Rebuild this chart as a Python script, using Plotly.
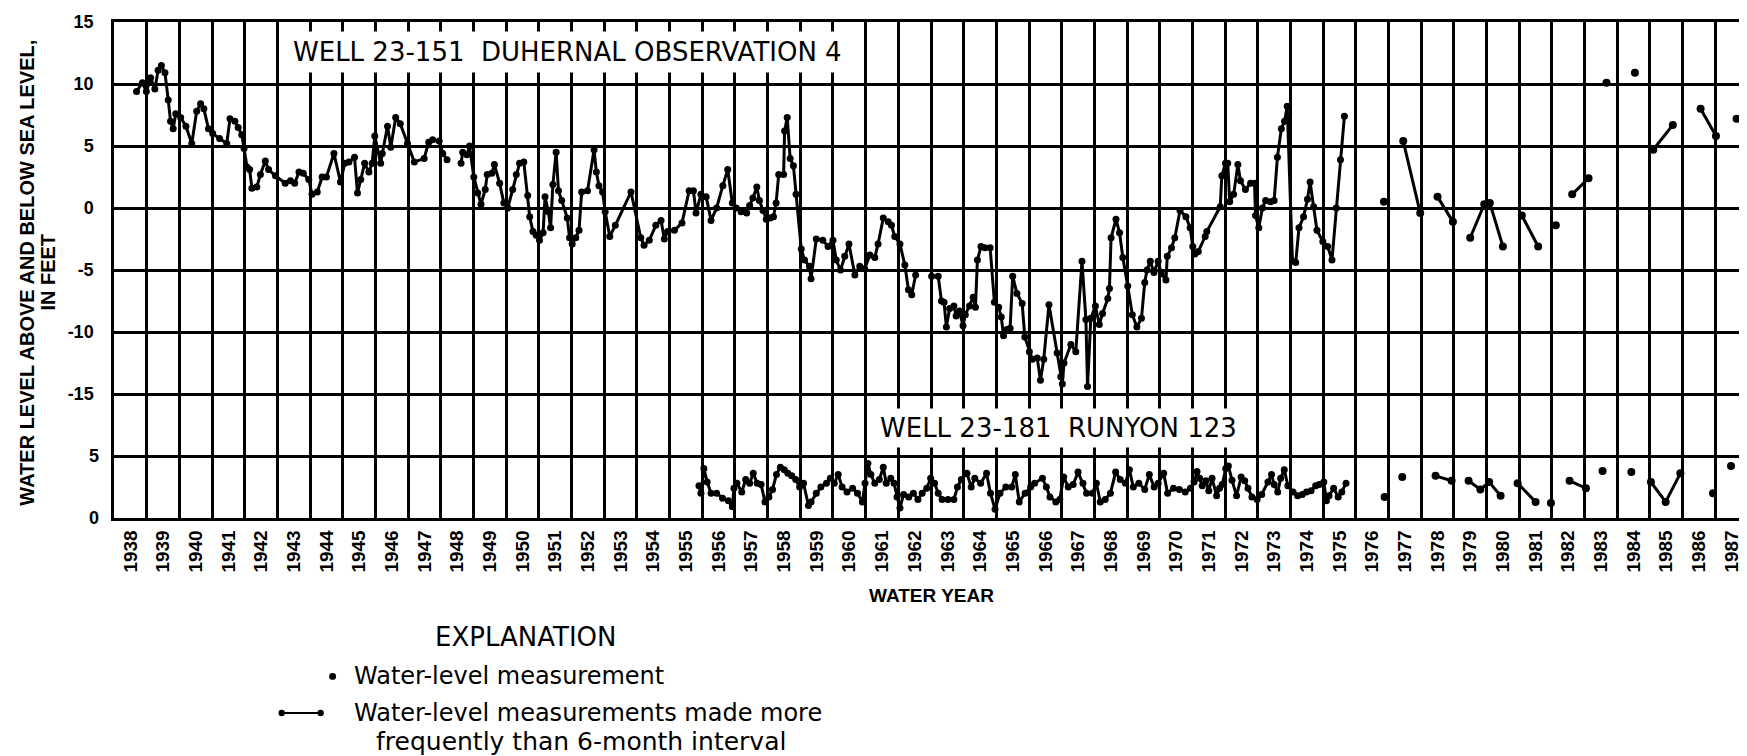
import plotly.graph_objects as go

# ---------------- data (water year, feet relative to sea level) ----------------
# Well 23-151 Duhernal Observation 4 : frequent measurements 1938-1975 (None = break in record)
upper_year = [
    1938.69, 1938.87, 1938.99, 1939.12, 1939.25, 1939.35, 1939.45, 1939.56, 1939.66, 1939.73,
    1939.81, 1939.89, 1940.04, 1940.20, 1940.38, 1940.53, 1940.65, 1940.75, 1940.89, 1941.02,
    1941.23, 1941.45, 1941.55, 1941.70, 1941.80, 1941.91, 1941.98, 1942.07, 1942.15, 1942.22,
    1942.37, 1942.48, 1942.63, 1942.73, 1942.94, 1943.24, 1943.40, 1943.53, 1943.66, 1943.79,
    1943.96, 1944.06, 1944.22, 1944.37, 1944.50, 1944.73, 1944.93, 1945.06, 1945.19, 1945.36,
    1945.45, 1945.55, 1945.67, 1945.80, 1945.90, 1945.98, 1946.16, 1946.21, 1946.37, 1946.47,
    1946.62, 1946.76, 1946.98, 1947.19, 1947.49, 1947.63, 1947.75, 1947.95, 1948.06, 1948.19,
    None,
    1948.62, 1948.67, 1948.80, 1948.88, 1949.01, 1949.13, 1949.23, 1949.36, 1949.42, 1949.56,
    1949.64, 1949.80, 1949.93, 1950.05, 1950.20, 1950.31, 1950.41, 1950.54, 1950.66, 1950.72,
    1950.82, 1950.92, 1951.02, 1951.13, 1951.19, 1951.29, 1951.36, 1951.43, 1951.53, 1951.60,
    1951.70, 1951.87, 1951.94, 1952.02, 1952.13, 1952.23, 1952.31, 1952.49, 1952.69, 1952.76,
    1952.84, 1952.95, 1953.03, 1953.17, 1953.34, 1953.82, 1954.12, 1954.22, 1954.38, 1954.58,
    1954.74, 1954.84, 1954.94, 1955.15, 1955.38, 1955.60, 1955.73, 1955.81, 1955.96, 1956.12,
    1956.27, 1956.44, 1956.63, 1956.78, 1956.92, 1957.04, 1957.19, 1957.36, 1957.45, 1957.55,
    1957.67, 1957.75, 1957.86, 1957.96, 1958.08, 1958.18, 1958.26, 1958.34, 1958.49, 1958.52,
    1958.60, 1958.69, 1958.79, 1958.87, 1959.03, 1959.13, 1959.28, 1959.33, 1959.49, 1959.69,
    1959.85, 1960.00, 1960.10, 1960.23, 1960.36, 1960.49, 1960.67, 1960.82, 1960.97, 1961.13,
    1961.28, 1961.38, 1961.54, 1961.69, 1961.79, 1961.89, 1962.05, 1962.20, 1962.31, 1962.41,
    1962.53,
    None,
    1963.02, 1963.22, 1963.32, 1963.40, 1963.47, 1963.57, 1963.70, 1963.77, 1963.87, 1963.98,
    1964.05, 1964.18, 1964.29, 1964.36, 1964.42, 1964.53, 1964.65, 1964.81, 1964.94, 1965.07,
    1965.15, 1965.22, 1965.32, 1965.42, 1965.50, 1965.63, 1965.79, 1965.87, 1966.01, 1966.10,
    1966.25, 1966.35, 1966.45, 1966.61, 1966.86, 1966.97, 1967.02, 1967.07, 1967.28, 1967.43,
    1967.62, 1967.74, 1967.79, 1967.89, 1968.03, 1968.15, 1968.25, 1968.41, 1968.46, 1968.51,
    1968.66, 1968.77, 1968.87, 1969.02, 1969.16, 1969.30, 1969.44, 1969.54, 1969.61, 1969.71,
    1969.82, 1969.95, 1970.05, 1970.19, 1970.23, 1970.36, 1970.46, 1970.62, 1970.80, 1970.93,
    1971.01, 1971.08, 1971.18, 1971.39, 1971.44, 1971.85, 1971.90, 1972.01, 1972.08, 1972.14,
    1972.26, 1972.39, 1972.47, 1972.62, 1972.78, 1972.90, 1972.93, 1973.03, 1973.14, 1973.24,
    1973.39, 1973.50, 1973.60, 1973.72, 1973.82, 1973.90, 1974.06, 1974.16, 1974.26, 1974.40,
    1974.52, 1974.60, 1974.71, 1974.81, 1974.99, 1975.14, 1975.27, 1975.40, 1975.53, 1975.65,
]
upper_level = [
    9.4, 10.1, 9.4, 10.5, 9.6, 11.1, 11.5, 10.9, 8.7, 7.0,
    6.4, 7.6, 7.3, 6.6, 5.2, 7.8, 8.4, 8.0, 6.4, 6.0,
    5.6, 5.2, 7.2, 7.0, 6.5, 5.9, 4.8, 3.3, 3.1, 1.6,
    1.7, 2.7, 3.8, 3.1, 2.6, 2.0, 2.2, 2.0, 2.9, 2.8,
    2.3, 1.1, 1.3, 2.5, 2.5, 4.4, 2.1, 3.6, 3.7, 4.1,
    1.2, 2.3, 3.6, 2.9, 3.6, 5.8, 3.6, 4.4, 6.6, 4.9,
    7.3, 6.8, 5.2, 3.7, 4.0, 5.3, 5.5, 5.4, 4.4, 3.9,
    None,
    3.6, 4.5, 4.3, 5.0, 2.5, 1.2, 0.3, 1.5, 2.7, 2.8,
    3.5, 2.0, 0.4, 0.0, 1.5, 2.7, 3.6, 3.7, 1.0, -0.7,
    -1.9, -2.2, -2.6, -2.0, 0.9, -0.3, -1.6, 1.9, 4.5, 1.4,
    0.6, -0.8, -2.4, -2.9, -2.4, -1.8, 1.3, 1.4, 4.7, 2.9,
    1.8, 1.3, -0.3, -2.3, -1.4, 1.3, -2.4, -3.0, -2.6, -1.4,
    -1.0, -2.5, -1.9, -1.8, -1.2, 1.4, 1.4, -0.4, 1.1, 0.9,
    -1.0, 0.0, 1.8, 3.1, 0.4, 0.0, -0.3, -0.4, 0.2, 0.8,
    1.7, 0.6, -0.2, -0.9, -0.8, -0.7, 0.4, 2.7, 2.7, 6.2,
    7.3, 4.0, 3.4, 1.1, -3.3, -4.2, -4.7, -5.7, -2.5, -2.6,
    -3.1, -2.6, -4.2, -5.0, -3.9, -2.9, -5.4, -4.7, -4.9, -3.8,
    -4.0, -2.9, -0.8, -1.1, -1.4, -2.3, -2.9, -4.6, -6.6, -7.0,
    -5.4,
    None,
    -5.5, -5.5, -7.5, -7.6, -9.6, -8.1, -7.9, -8.7, -8.3, -9.5,
    -8.6, -7.9, -7.2, -8.0, -4.2, -3.1, -3.2, -3.2, -7.6, -8.0,
    -8.8, -10.3, -9.8, -9.7, -5.5, -6.9, -7.7, -10.4, -11.6, -12.2,
    -12.1, -13.9, -12.2, -7.8, -11.7, -13.6, -14.2, -12.5, -11.0, -11.6,
    -4.3, -9.0, -14.4, -8.9, -7.9, -9.4, -8.5, -7.3, -6.5, -2.4,
    -0.9, -2.0, -4.0, -6.3, -8.6, -9.6, -8.9, -6.0, -5.0, -4.3,
    -5.2, -4.3, -5.3, -5.8, -3.9, -3.2, -2.4, -0.2, -0.7, -1.6,
    -3.1, -3.7, -3.5, -2.3, -1.9, 0.1, 2.6, 3.6, 3.6, 0.5,
    1.1, 3.5, 2.2, 1.5, 2.0, 2.0, -0.6, -1.6, 0.0, 0.6,
    0.5, 0.6, 4.1, 6.4, 7.0, 8.2, -4.3, -4.4, -1.6, -0.7,
    0.7, 2.1, 0.1, -1.8, -2.7, -3.1, -4.2, 0.0, 3.9, 7.4,
]

# Well 23-151 : later, sparser measurements 1976-1987
upper_late_year = [1976.86, None, 1977.45, 1977.97, None, 1978.50, 1978.97, None,
                   1979.50, 1979.93, 1980.10, 1980.50, None, 1981.08, 1981.58, None,
                   1982.12, None, 1982.62, 1983.12, None, 1983.67, None, 1984.54, None,
                   1985.10, 1985.70, None, 1986.55, 1987.02, None, 1987.65]
upper_late_level = [0.5, None, 5.4, -0.4, None, 0.9, -1.1, None,
                    -2.4, 0.3, 0.4, -3.1, None, -0.6, -3.1, None,
                    -1.4, None, 1.1, 2.4, None, 10.1, None, 10.9, None,
                    4.7, 6.7, None, 8.0, 5.8, None, 7.2]

# Well 23-181 Runyon 123 : frequent measurements 1956-1975
lower_year = [
    1955.90, 1955.96, 1956.05, 1956.15, 1956.27, 1956.44, 1956.62, 1956.80, 1956.92, 1956.97,
    1957.06, 1957.21, 1957.33, 1957.45, 1957.56, 1957.68, 1957.80, 1957.92, 1958.04, 1958.15,
    1958.27, 1958.39, 1958.51, 1958.62, 1958.74, 1958.86, 1958.98, 1959.10, 1959.25, 1959.33,
    1959.49, 1959.63, 1959.80, 1959.92, 1960.04, 1960.16, 1960.28, 1960.43, 1960.60, 1960.75,
    1960.90, 1960.98, 1961.07, 1961.16, 1961.28, 1961.42, 1961.54, 1961.63, 1961.77, 1961.87,
    1961.96, 1962.05, 1962.16, 1962.32, 1962.46, 1962.60, 1962.73, 1962.87, 1962.99, 1963.11,
    1963.22, 1963.34, 1963.52, 1963.70, 1963.81, 1963.93, 1964.10, 1964.23, 1964.34, 1964.52,
    1964.70, 1964.82, 1964.96, 1965.11, 1965.29, 1965.47, 1965.58, 1965.70, 1965.88, 1966.05,
    1966.17, 1966.41, 1966.53, 1966.64, 1966.82, 1966.94, 1967.06, 1967.20, 1967.35, 1967.50,
    1967.65, 1967.76, 1967.94, 1968.06, 1968.18, 1968.33, 1968.49, 1968.65, 1968.79, 1968.95,
    1969.07, 1969.19, 1969.36, 1969.54, 1969.68, 1969.83, 1969.95, 1970.12, 1970.24, 1970.42,
    1970.60, 1970.78, 1970.94, 1971.05, 1971.14, 1971.22, 1971.30, 1971.41, 1971.50, 1971.60,
    1971.74, 1971.83, 1971.91, 1972.02, 1972.10, 1972.21, 1972.35, 1972.49, 1972.60, 1972.70,
    1972.82, 1972.98, 1973.12, 1973.31, 1973.42, 1973.50, 1973.61, 1973.70, 1973.81, 1973.92,
    1974.08, 1974.22, 1974.36, 1974.49, 1974.63, 1974.77, 1974.88, 1975.02, 1975.10, 1975.18,
    1975.32, 1975.46, 1975.57, 1975.70,
]
lower_level = [
    2.6, 2.0, 4.0, 2.9, 2.0, 2.0, 1.6, 1.4, 0.9, 2.4,
    2.8, 2.1, 3.1, 2.8, 3.6, 2.8, 2.7, 1.3, 1.7, 2.3,
    3.5, 4.1, 3.9, 3.6, 3.4, 3.1, 2.5, 2.8, 1.0, 1.3,
    2.0, 2.5, 2.8, 3.2, 2.8, 3.5, 2.5, 2.1, 2.4, 2.0,
    1.3, 2.8, 4.4, 3.5, 2.8, 3.1, 4.1, 2.8, 3.2, 2.8,
    1.7, 0.8, 1.9, 1.7, 2.0, 1.5, 2.0, 2.4, 3.2, 2.8,
    2.0, 1.5, 1.5, 1.5, 2.5, 3.1, 3.6, 2.5, 3.2, 2.8,
    3.6, 2.0, 0.7, 2.0, 2.5, 2.5, 3.5, 1.3, 2.0, 2.5,
    2.8, 3.2, 2.5, 1.7, 1.3, 1.5, 3.3, 2.5, 2.7, 3.7,
    2.8, 2.0, 2.0, 2.8, 1.3, 1.5, 2.0, 3.7, 3.1, 2.8,
    3.9, 2.5, 2.8, 2.3, 3.5, 2.5, 2.8, 3.6, 2.0, 2.4,
    2.3, 2.1, 2.4, 2.9, 3.75, 3.2, 2.6, 3.0, 2.2, 3.2,
    1.8, 2.4, 2.7, 4.0, 4.2, 3.05, 1.8, 3.3, 3.0, 2.4,
    1.7, 1.5, 1.9, 2.9, 3.5, 2.7, 2.1, 3.2, 3.9, 2.6,
    2.1, 1.8, 1.9, 2.1, 2.2, 2.6, 2.7, 2.9, 1.4, 1.8,
    2.4, 1.7, 2.1, 2.8,
]

# Well 23-181 : later, sparser measurements 1976-1987
lower_late_year = [1976.88, None, 1977.42, None, 1978.44, 1978.93, None,
                   1979.45, 1979.81, 1980.08, 1980.43, None, 1980.95, 1981.50, None,
                   1981.97, None, 1982.54, 1983.04, None, 1983.55, None, 1984.43, None,
                   1985.03, 1985.48, 1985.93, None, 1986.93, None, 1987.48]
lower_late_level = [1.7, None, 3.3, None, 3.4, 3.0, None,
                    3.0, 2.3, 2.9, 1.8, None, 2.8, 1.3, None,
                    1.2, None, 3.0, 2.4, None, 3.8, None, 3.7, None,
                    2.9, 1.3, 3.6, None, 2.0, None, 4.2]

water_years = list(range(1938, 1988))
upper_ticks = [15, 10, 5, 0, -5, -10, -15]
lower_ticks = [5, 0]

# ---------------- figure geometry ----------------
FIG_W, FIG_H = 1747, 756
M_L, M_R, M_T, M_B = 106, 4, 9, 246
PW = FIG_W - M_L - M_R
PH = FIG_H - M_T - M_B


def pxx(px):
    return (px - M_L) / PW


def pxy(py):
    return (FIG_H - M_B - py) / PH


BOLD = dict(family="Liberation Sans, Arial, sans-serif", color="black", weight="bold")
WIDE = dict(family="DejaVu Sans, sans-serif", color="black")

fig = go.Figure()

line_style = dict(color="black", width=3)
fig.add_trace(go.Scatter(x=upper_year, y=upper_level, mode="lines+markers",
                         line=line_style, marker=dict(color="black", size=7),
                         connectgaps=False, showlegend=False, hoverinfo="skip"))
fig.add_trace(go.Scatter(x=upper_late_year, y=upper_late_level, mode="lines+markers",
                         line=line_style, marker=dict(color="black", size=8),
                         connectgaps=False, showlegend=False, hoverinfo="skip"))
fig.add_trace(go.Scatter(x=lower_year, y=lower_level, mode="lines+markers", yaxis="y2",
                         line=line_style, marker=dict(color="black", size=7),
                         connectgaps=False, showlegend=False, hoverinfo="skip"))
fig.add_trace(go.Scatter(x=lower_late_year, y=lower_late_level, mode="lines+markers", yaxis="y2",
                         line=line_style, marker=dict(color="black", size=8),
                         connectgaps=False, showlegend=False, hoverinfo="skip"))

annotations = [
    dict(text="WELL 23-151\u00a0\u00a0DUHERNAL OBSERVATION 4", xref="x", yref="y",
         x=1943.3, y=12.55, xanchor="left", yanchor="middle", showarrow=False,
         font=dict(size=26, **WIDE), bgcolor="white", borderpad=5),
    dict(text="WELL 23-181\u00a0\u00a0RUNYON 123", xref="x", yref="y",
         x=1961.3, y=-17.75, xanchor="left", yanchor="middle", showarrow=False,
         font=dict(size=26, **WIDE), bgcolor="white", borderpad=4),
    dict(text="WATER LEVEL ABOVE AND BELOW SEA LEVEL,", xref="paper", yref="paper",
         x=pxx(19), y=pxy(262), textangle=-90, showarrow=False, xanchor="center", yanchor="middle",
         font=dict(size=20, **BOLD)),
    dict(text="IN FEET", xref="paper", yref="paper",
         x=pxx(40), y=pxy(262), textangle=-90, showarrow=False, xanchor="center", yanchor="middle",
         font=dict(size=20, **BOLD)),
    dict(text="WATER YEAR", xref="paper", yref="paper", x=0.5, y=pxy(588),
         showarrow=False, xanchor="center", yanchor="middle", font=dict(size=19, **BOLD)),
    dict(text="EXPLANATION", xref="paper", yref="paper", x=pxx(518), y=pxy(630),
         showarrow=False, xanchor="center", yanchor="middle", font=dict(size=26, **WIDE)),
    dict(text="Water-level measurement", xref="paper", yref="paper", x=pxx(344), y=pxy(670),
         showarrow=False, xanchor="left", yanchor="middle", font=dict(size=24, **WIDE)),
    dict(text="Water-level measurements made more", xref="paper", yref="paper", x=pxx(344), y=pxy(707),
         showarrow=False, xanchor="left", yanchor="middle", font=dict(size=24, **WIDE)),
    dict(text="frequently than 6-month interval", xref="paper", yref="paper", x=pxx(366), y=pxy(736),
         showarrow=False, xanchor="left", yanchor="middle", font=dict(size=25, **WIDE)),
]


def dot(cx, cy, r):
    return dict(type="circle", xref="paper", yref="paper",
                x0=pxx(cx - r), x1=pxx(cx + r), y0=pxy(cy + r), y1=pxy(cy - r),
                fillcolor="black", line=dict(color="black", width=0))


shapes = [
    dot(325, 670, 3.5),
    dict(type="line", xref="paper", yref="paper", x0=pxx(274), x1=pxx(313), y0=pxy(707), y1=pxy(707),
         line=dict(color="black", width=2)),
    dot(274, 707, 3.2),
    dot(313, 707, 3.2),
]

GRID_W = 2.5
fig.update_layout(
    width=FIG_W, height=FIG_H,
    margin=dict(l=M_L, r=M_R, t=M_T, b=M_B, pad=0),
    paper_bgcolor="white", plot_bgcolor="white",
    showlegend=False,
    xaxis=dict(
        range=[1938, 1988], tickmode="array",
        tickvals=[y + 0.5 for y in water_years], ticktext=[str(y) for y in water_years],
        tickangle=-90, ticks="", showgrid=False, zeroline=False,
        showline=True, mirror=True, linecolor="black", linewidth=2.5,
        tickfont=dict(size=19, **BOLD), ticklabelstandoff=2,
        minor=dict(tickmode="array", tickvals=water_years[1:], showgrid=True,
                   gridcolor="black", gridwidth=GRID_W, ticks=""),
    ),
    yaxis=dict(
        range=[-25, 15], tickmode="array", tickvals=upper_ticks,
        ticktext=[str(v) for v in upper_ticks], ticks="",
        showgrid=True, gridcolor="black", gridwidth=GRID_W, zeroline=False,
        showline=True, mirror=True, linecolor="black", linewidth=2.5,
        tickfont=dict(size=18, **BOLD), ticklabelstandoff=14, ticklabeloverflow="allow",
    ),
    yaxis2=dict(
        overlaying="y", side="left", range=[0, 40], tickmode="array",
        tickvals=lower_ticks, ticktext=[str(v) for v in lower_ticks], ticks="",
        showgrid=True, gridcolor="black", gridwidth=GRID_W, zeroline=False, showline=False,
        tickfont=dict(size=18, **BOLD), ticklabelstandoff=14, ticklabeloverflow="allow",
    ),
    annotations=annotations,
    shapes=shapes,
)

fig.write_html("out.html")
